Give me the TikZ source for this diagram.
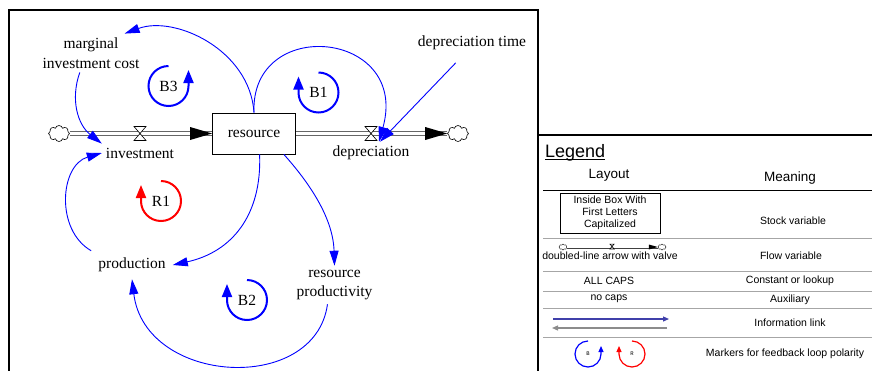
\documentclass[tikz,border=0pt]{standalone}
\usepackage{fontspec}
\setmainfont{Liberation Serif}
\setsansfont{Liberation Sans}
\setmonofont{Liberation Mono}
\usetikzlibrary{arrows.meta,shapes.symbols,calc}

\newcommand{\diagfont}{\fontsize{15.5}{19.5}\selectfont}
\newcommand{\legfont}{\sffamily\fontsize{10.5}{12}\selectfont}
\definecolor{infoblue}{RGB}{64,64,170}

\begin{document}
\begin{tikzpicture}[
        x=1pt, y=-1pt,
        var/.style={font=\diagfont, align=center, inner sep=4pt},
        stock/.style={draw, line width=0.8pt, minimum width=83pt, minimum height=41pt, inner sep=0pt, font=\diagfont},
        link/.style={blue, line width=0.9pt, -{Triangle[length=15pt,width=9pt]}},
        pipe/.style={draw=black!60, double=white, double distance=2.6pt, line width=1.6pt},
        source/.style={cloud, cloud puffs=8, cloud ignores aspect, draw, fill=white, line width=0.6pt,
                       minimum width=21pt, minimum height=16pt, inner sep=0pt},
        valve/.pic={\draw[fill=white, line width=0.6pt] (-6,-7) -- (6,-7) -- (-6,7) -- (6,7) -- cycle;},
        loopname/.style={font=\diagfont, inner sep=0pt},
        loopmark/.style={blue, line width=2pt, -{Triangle[length=13pt,width=10pt]}},
        % legend
        sepline/.style={black!35, line width=0.9pt},
        legtext/.style={font=\legfont, align=center, inner sep=0pt},
        smallmark/.style={line width=1.2pt, -{Triangle[length=6pt,width=5pt]}},
    ]
    \useasboundingbox (0,0) rectangle (872,370);

    % frames
    \draw[line width=2pt] (9,372) -- (9,10) -- (538,10) -- (538,372);
    \draw[line width=2pt] (538,135) -- (874,135);

    % stock and flows
    \node (res) [stock] at (254,133.5) {resource};
    \node (cl) [source] at (59,133.5) {};
    \node (cr) [source] at (458,133.5) {};
    \draw[pipe] (cl) -- (res);
    \draw[pipe] (res) -- (cr);
    \fill ($(res.west)+(-22,-6.5)$) -- (res.west) -- ($(res.west)+(-22,6.5)$) -- cycle;
    \fill ($(cr.west)+(-22,-6.5)$) -- (cr.west) -- ($(cr.west)+(-22,6.5)$) -- cycle;
    \pic at (140,133.5) {valve};
    \pic at (371,133.5) {valve};

    \node (inv) [var] at (140,153) {investment};
    \node (dep) [var] at (371,153) {depreciation};
    \node (dept) [var] at (472,43) {depreciation time};
    \node (mic) [var] at (91,53) {marginal\\investment cost};
    \node (prod) [var, inner sep=7pt] at (132,265) {production};
    \node (rp) [var] at (334.5,285) {resource\\productivity};

    % links
    \draw[link] (res.north) .. controls (250,50) and (175,15) .. (mic.30);
    \draw[link] (mic.240) .. controls (70,100) and (78,125) .. (inv.north west);
    \draw[link] (res.north) .. controls (250,15) and (410,30) .. ([xshift=8pt]dep.north);
    \draw[link, shorten <=12pt] ([xshift=-8pt]dept.south) -- ([xshift=9pt]dep.north);
    \draw[link] (prod.north west) .. controls (55,230) and (60,165) .. (inv.west);
    \draw[link] (res.-75) .. controls (262,215) and (232,252) .. (prod.east);
    \draw[link] (res.-35) .. controls (305,178) and (333,215) .. (rp.north);
    \draw[link] (rp.-110) .. controls (315,395) and (145,385) .. (prod.south);

    % loop markers
    \node (bthree) [loopname] at (168.5,86) {B3};
    \draw[loopmark] (bthree.center) ++(-90:20) arc[start angle=-90, end angle=-360, radius=20] -- ++(0,-16);
    \node (bone) [loopname] at (318.5,92.5) {B1};
    \draw[loopmark] (bone.center) ++(-90:20) arc[start angle=-90, end angle=180, radius=20] -- ++(0,-16);
    \node (rone) [loopname] at (161,201) {R1};
    \draw[loopmark, red] (rone.center) ++(-90:20) arc[start angle=-90, end angle=180, radius=20] -- ++(0,-16);
    \node (btwo) [loopname] at (247,300) {B2};
    \draw[loopmark] (btwo.center) ++(-90:20) arc[start angle=-90, end angle=180, radius=20] -- ++(0,-16);

    % legend
    \node (lgd) [anchor=base west, inner sep=0pt, font=\sffamily\fontsize{18}{20}\selectfont] at (545,157) {Legend};
    \draw[line width=0.8pt] ([yshift=-2pt]lgd.base west) -- ([yshift=-2pt]lgd.base east);
    \node (lay) [legtext, font=\sffamily\fontsize{13.5}{15}\selectfont] at (609,175) {Layout};
    \node (mean) [legtext, font=\sffamily\fontsize{13.5}{15}\selectfont] at (790,178) {Meaning};
    \draw[line width=0.9pt] (543,190) -- (872,190);

    \node (lbox) [legtext, draw, line width=0.7pt, minimum width=100pt, minimum height=40pt] at (610,213)
        {Inside Box With\\First Letters\\Capitalized};
    \node (lstock) [legtext] at (793,221) {Stock variable};
    \draw[sepline] (543,238.5) -- (872,238.5);

    \node (lcl) [source, minimum width=8pt, minimum height=6pt, line width=0.4pt] at (563,247) {};
    \node (lcr) [source, minimum width=8pt, minimum height=6pt, line width=0.4pt] at (662,247) {};
    \draw[pipe, draw=black!75, line width=0.8pt, double distance=1.4pt] (lcl.east) -- (lcr.west);
    \fill ($(lcr.west)+(-9,-2.5)$) -- (lcr.west) -- ($(lcr.west)+(-9,2.5)$) -- cycle;
    \pic[scale=0.35] at (612,246.5) {valve};
    \node (lflow) [legtext] at (610,256) {doubled-line arrow with valve};
    \node (lflowm) [legtext] at (791,256) {Flow variable};
    \draw[sepline] (543,271) -- (872,271);

    \node (lcaps) [legtext] at (609,281) {ALL CAPS};
    \node (lconst) [legtext] at (790,281) {Constant or lookup};
    \draw[sepline] (543,291) -- (872,291);

    \node (lnocaps) [legtext] at (609,299) {no caps};
    \node (laux) [legtext] at (790,300) {Auxiliary};
    \draw[sepline] (543,308) -- (872,308);

    \coordinate (ia) at (553,319);
    \coordinate (ib) at (669,319);
    \coordinate (ic) at (667,328);
    \coordinate (id) at (552,328);
    \draw[smallmark, infoblue] (ia) -- (ib);
    \draw[smallmark, black!45] (ic) -- (id);
    \node (linfo) [legtext] at (790,323) {Information link};
    \draw[sepline] (543,337) -- (872,337);

    \node (lb) [inner sep=0pt, font=\ttfamily\fontsize{5.5}{6}\selectfont] at (588,354) {B};
    \draw[smallmark, blue] (lb.center) ++(-90:13) arc[start angle=-90, end angle=-360, radius=13] -- ++(0,-8);
    \node (lr) [inner sep=0pt, font=\ttfamily\fontsize{5.5}{6}\selectfont] at (632,354) {R};
    \draw[smallmark, red] (lr.center) ++(-90:13) arc[start angle=-90, end angle=180, radius=13] -- ++(0,-8);
    \node (lmark) [legtext] at (785,354) {Markers for feedback loop polarity};
\end{tikzpicture}
\end{document}
